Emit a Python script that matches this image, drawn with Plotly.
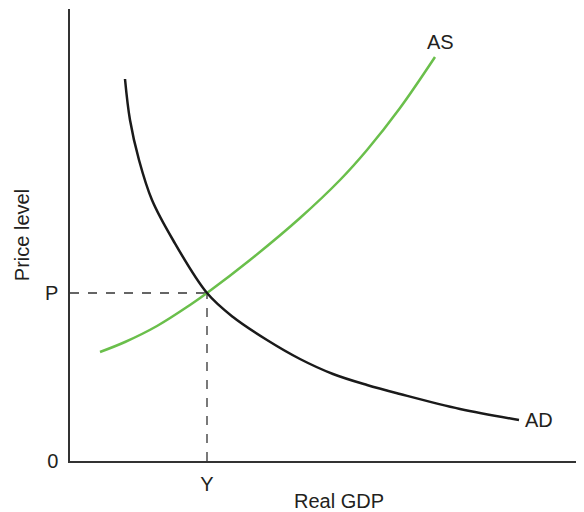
import plotly.graph_objects as go

FONT = "Liberation Sans"
TEXT = "#231f20"

# curve points (output, price level)
ad_x = [55, 60, 69, 82, 103, 137, 163, 197, 230, 263, 297, 330, 390, 449]
ad_y = [382, 341, 301, 261, 221, 168, 144, 121, 102, 87, 76, 67, 52, 41]

as_x = [30, 55, 87, 120, 137, 180, 230, 270, 297, 330, 365]
as_y = [109, 119, 135, 156, 168, 201, 243, 281, 311, 353, 404]

eq_x = 137  # Y
eq_y = 168  # P

fig = go.Figure()

fig.add_trace(go.Scatter(x=[0, eq_x], y=[eq_y, eq_y], mode="lines",
                         line=dict(color="#333333", width=1.3, dash="dash")))
fig.add_trace(go.Scatter(x=[eq_x, eq_x], y=[0, eq_y], mode="lines",
                         line=dict(color="#333333", width=1.3, dash="dash")))
fig.add_trace(go.Scatter(x=as_x, y=as_y, mode="lines", line_shape="spline",
                         line=dict(color="#6abf4b", width=2.5)))
fig.add_trace(go.Scatter(x=ad_x, y=ad_y, mode="lines", line_shape="spline",
                         line=dict(color="#1a1a1a", width=2.5)))

fig.add_annotation(x=as_x[-1], y=as_y[-1], text="AS", showarrow=False,
                   xanchor="center", yanchor="bottom", xshift=5, yshift=2,
                   font=dict(size=20, color=TEXT))
fig.add_annotation(x=ad_x[-1], y=ad_y[-1], text="AD", showarrow=False,
                   xanchor="left", yanchor="middle", xshift=4,
                   font=dict(size=20, color=TEXT))

fig.update_layout(
    width=600, height=504,
    margin=dict(l=62, r=0, t=1, b=51),
    paper_bgcolor="white", plot_bgcolor="white",
    showlegend=False,
    font=dict(family=FONT, size=20, color=TEXT),
)
fig.update_xaxes(range=[0, 538], showgrid=False, zeroline=False,
                 showline=True, linecolor="#333333", linewidth=1.5,
                 tickvals=[eq_x], ticktext=["Y"], ticks="", ticklabelstandoff=4,
                 tickfont=dict(size=20),
                 title=dict(text="Real GDP", font=dict(size=20), standoff=2))
fig.update_yaxes(range=[0, 452], showgrid=False, zeroline=False,
                 showline=True, linecolor="#333333", linewidth=1.5,
                 tickvals=[0, eq_y], ticktext=["0", "P"], ticks="", ticklabelstandoff=6,
                 tickfont=dict(size=20),
                 title=dict(text="Price level", font=dict(size=20), standoff=10))

fig.write_html("out.html")
